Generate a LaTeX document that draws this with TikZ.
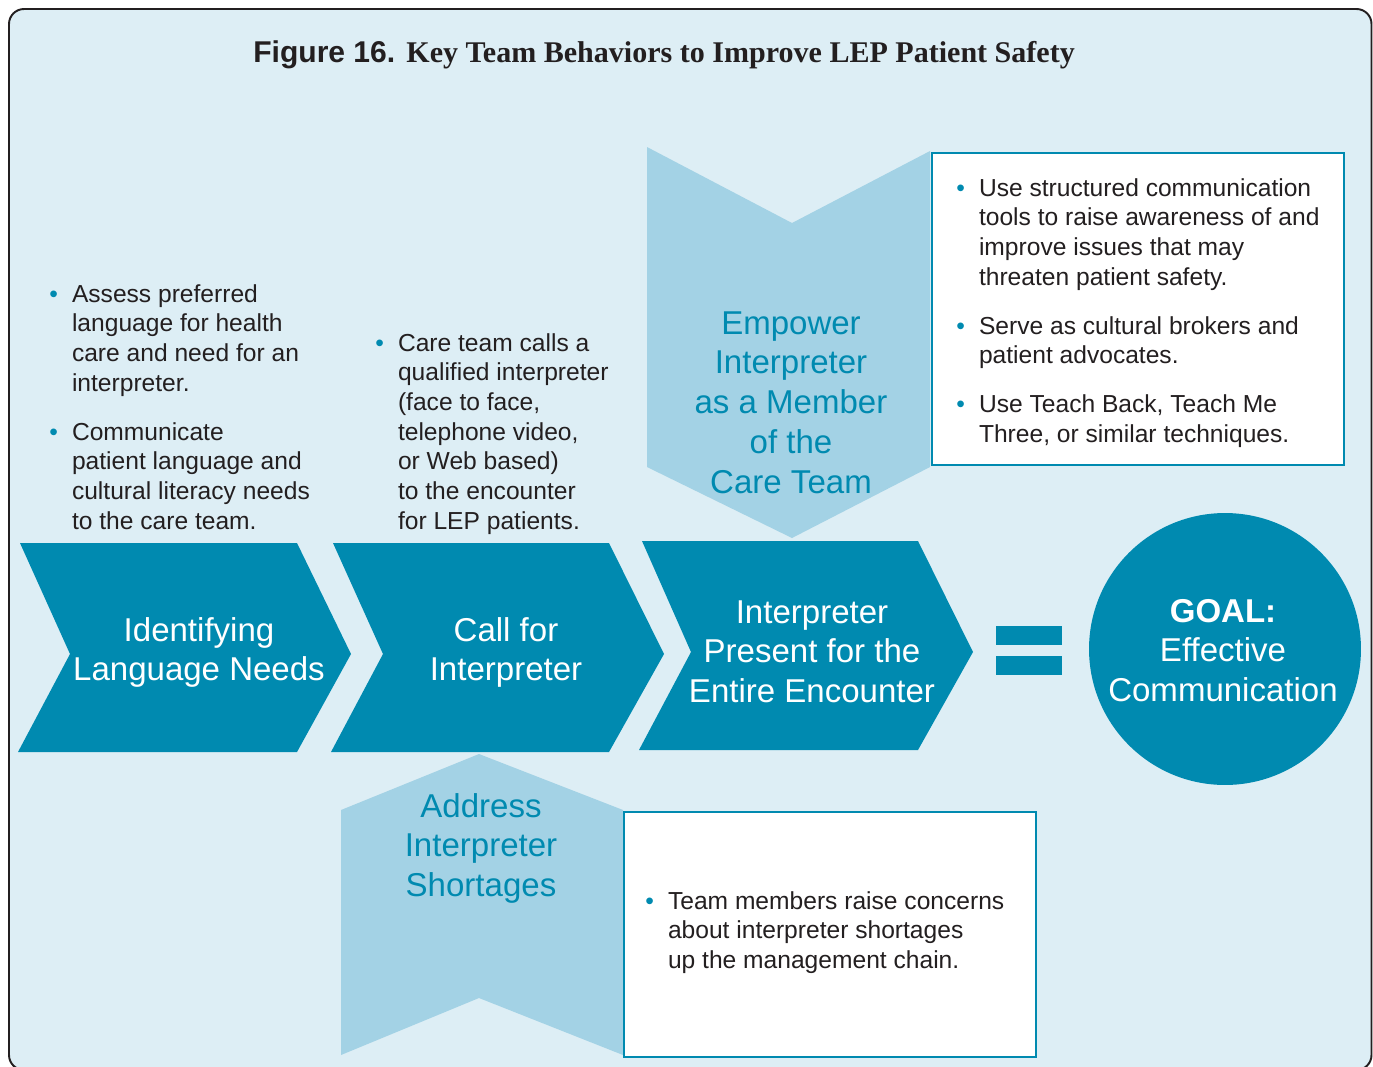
\documentclass[tikz,border=0pt]{standalone}
\usepackage{fontspec}
\usepackage{xcolor}
\setmainfont{Liberation Sans}
\newfontfamily\titleserif{Liberation Serif}

\definecolor{stepteal}{HTML}{008AB0}
\definecolor{sideblue}{HTML}{A3D2E5}
\definecolor{panelblue}{HTML}{DDEEF5}
\definecolor{textdark}{HTML}{231F20}

\newcommand{\bul}{\textcolor{stepteal}{\textbullet}}

\begin{document}
\begin{tikzpicture}[
    x=0.02cm, y=-0.02cm,
    frame/.style={draw=textdark, line width=1.1pt, fill=panelblue, rounded corners=0.3cm},
    stepshape/.style={fill=stepteal},
    sideshape/.style={fill=sideblue},
    infobox/.style={draw=stepteal, line width=0.8pt, fill=white},
    steplabel/.style={inner sep=0pt, anchor=base, text=white, font=\fontsize{18.8}{22.7}\selectfont},
    sidelabel/.style={inner sep=0pt, anchor=base, text=stepteal, font=\fontsize{18.8}{22.7}\selectfont},
    bullets/.style={inner sep=0pt, anchor=base west, text=textdark, font=\fontsize{14}{16.9}\selectfont}
]

\useasboundingbox (0,0) rectangle (1373,1066);
\draw[frame] (9,9) rectangle (1371.5,1070);

\node[inner sep=0pt, anchor=base west, text=textdark, font=\fontsize{17.1}{21}\selectfont\bfseries] (title) at (253,62)
    {Figure 16. {\titleserif Key Team Behaviors to Improve LEP Patient Safety}};

% side arrows
\fill[sideshape] (647,147) -- (792,223) -- (930,151) -- (930,467) -- (792,538) -- (647,467) -- cycle;
\fill[sideshape] (341,810) -- (479,754) -- (623,810) -- (623,1055) -- (479,998) -- (341,1055) -- cycle;

\draw[infobox] (932,153) rectangle (1344,465);
\draw[infobox] (624,812) rectangle (1036,1057);

% main steps
\fill[stepshape] (20,543) -- (297,543) -- (351,654) -- (297,752) -- (18,752) -- (70,654) -- cycle;
\fill[stepshape] (333,543) -- (609,543) -- (664,654) -- (609,752) -- (331,752) -- (383,654) -- cycle;
\fill[stepshape] (642,541) -- (918,541) -- (973,652) -- (918,750) -- (639,750) -- (691,652) -- cycle;

\fill[stepshape] (996,626) rectangle (1062,645);
\fill[stepshape] (996,656) rectangle (1062,675);
\node[circle, fill=stepteal, minimum size=5.44cm, inner sep=0pt] (goal) at (1225,649) {};

\node[steplabel] (identify) at (199,641) {\begin{tabular}[t]{@{}c@{}}Identifying\\Language Needs\end{tabular}};
\node[steplabel] (callfor) at (506,641) {\begin{tabular}[t]{@{}c@{}}Call for\\Interpreter\end{tabular}};
\node[steplabel] (present) at (812,623) {\begin{tabular}[t]{@{}c@{}}Interpreter\\Present for the\\Entire Encounter\end{tabular}};
\node[steplabel] (goaltext) at (1223,622) {\begin{tabular}[t]{@{}c@{}}\textbf{GOAL:}\\Effective\\Communication\end{tabular}};
\node[sidelabel] (empower) at (791,334) {\begin{tabular}[t]{@{}c@{}}Empower\\Interpreter\\as a Member\\of the\\Care Team\end{tabular}};
\node[sidelabel] (shortage) at (481,817) {\begin{tabular}[t]{@{}c@{}}Address\\Interpreter\\Shortages\end{tabular}};

% bullet texts
\node[bullets] (assess) at (49,302) {\begin{tabular}[t]{@{}l@{\hspace{8pt}}l@{}}
    \bul & Assess preferred\\
         & language for health\\
         & care and need for an\\
         & interpreter.\\[11pt]
    \bul & Communicate\\
         & patient language and\\
         & cultural literacy needs\\
         & to the care team.
  \end{tabular}};
\node[bullets] (calls) at (375,351) {\begin{tabular}[t]{@{}l@{\hspace{8pt}}l@{}}
    \bul & Care team calls a\\
         & qualified interpreter\\
         & (face to face,\\
         & telephone video,\\
         & or Web based)\\
         & to the encounter\\
         & for LEP patients.
  \end{tabular}};
\node[bullets] (tools) at (956,196) {\begin{tabular}[t]{@{}l@{\hspace{8pt}}l@{}}
    \bul & Use structured communication\\
         & tools to raise awareness of and\\
         & improve issues that may\\
         & threaten patient safety.\\[11pt]
    \bul & Serve as cultural brokers and\\
         & patient advocates.\\[11pt]
    \bul & Use Teach Back, Teach Me\\
         & Three, or similar techniques.
  \end{tabular}};
\node[bullets] (concerns) at (645,909) {\begin{tabular}[t]{@{}l@{\hspace{8pt}}l@{}}
    \bul & Team members raise concerns\\
         & about interpreter shortages\\
         & up the management chain.
  \end{tabular}};

\end{tikzpicture}
\end{document}
